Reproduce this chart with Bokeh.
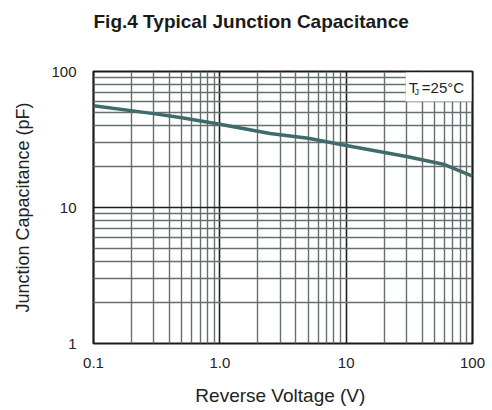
from bokeh.plotting import figure
from bokeh.models import FixedTicker, CustomJSTickFormatter, Label, Title
from bokeh.embed import file_html
from bokeh.resources import INLINE

# data
voltage = [0.1, 0.3, 0.5, 1.0, 2.5, 5.0, 10, 30, 60, 100]
capacitance = [56, 49, 45.7, 41, 35, 32.3, 28.6, 23.7, 20.7, 17.0]

x_major = [0.1, 1, 10, 100]
x_tick_labels = ["0.1", "1.0", "10", "100"]
y_major = [1, 10, 100]
y_tick_labels = ["1", "10", "100"]
x_minor = [m * 10.0 ** e for e in (-1, 0, 1) for m in range(2, 10)]
y_minor = [m * 10.0 ** e for e in (0, 1) for m in range(2, 10)]

title_text = "Fig.4  Typical Junction Capacitance"
x_label_text = "Reverse  Voltage (V)"
y_label_text = "Junction Capacitance (pF)"

FONT = "Liberation Sans"
TXT = "#222222"

p = figure(width=492, height=410, x_axis_type="log", y_axis_type="log",
           x_range=(0.1, 100), y_range=(1, 100),
           output_backend="svg", toolbar_location=None,
           min_border_left=93, min_border_right=20,
           min_border_top=71, min_border_bottom=67)

p.title.text = title_text
p.title.align = "left"
p.title.vertical_align = "top"
p.title.text_font = FONT
p.title.text_font_size = "19px"
p.title.text_font_style = "bold"
p.title.text_color = "#1a1a1a"
p.title.standoff = 20
# blank spacer between the title and the frame
p.add_layout(Title(text="\u00a0", text_font_size="10px", standoff=15), "above")

fmt_code = "const i = vals.indexOf(tick); return i >= 0 ? labs[i] : '';"
p.xaxis.ticker = FixedTicker(ticks=x_major, minor_ticks=x_minor)
p.yaxis.ticker = FixedTicker(ticks=y_major, minor_ticks=y_minor)
p.xaxis.formatter = CustomJSTickFormatter(args=dict(vals=x_major, labs=x_tick_labels), code=fmt_code)
p.yaxis.formatter = CustomJSTickFormatter(args=dict(vals=y_major, labs=y_tick_labels), code=fmt_code)

for ax in (p.xaxis, p.yaxis):
    ax.axis_line_color = None
    ax.major_tick_line_color = None
    ax.minor_tick_line_color = None
    ax.major_label_text_font = FONT
    ax.major_label_text_font_size = "15px"
    ax.major_label_text_color = TXT
    ax.axis_label_text_font = FONT
    ax.axis_label_text_font_style = "normal"
    ax.axis_label_text_color = TXT
p.xaxis.major_label_standoff = 8
p.yaxis.major_label_standoff = 11

p.xaxis.axis_label = x_label_text
p.xaxis.axis_label_text_font_size = "19px"
p.xaxis.axis_label_standoff = 14
p.yaxis.axis_label = y_label_text
p.yaxis.axis_label_text_font_size = "18px"
p.yaxis.axis_label_standoff = 15

for g in (p.xgrid, p.ygrid):
    g.grid_line_color = "#1e1e1e"
    g.grid_line_width = 1.6
    g.grid_line_alpha = 1.0
    g.minor_grid_line_color = "#63706e"
    g.minor_grid_line_width = 1.4

p.outline_line_color = "#1a1a1a"
p.outline_line_width = 2.2
p.background_fill_color = "white"

p.line(voltage, capacitance, line_color="#416b6b", line_width=3.5)

tj_box = Label(x=x_major[-1], y=y_major[-1], text="T  =25°C", anchor="top_right",
               x_offset=-1, y_offset=-1,
               text_font=FONT, text_font_size="15px", text_color=TXT,
               background_fill_color="white", padding=(3, 6))
tj_sub = Label(x=x_major[-1], y=y_major[-1], text="J", anchor="top_left",
               x_offset=-58, y_offset=-15,
               text_font=FONT, text_font_size="9px", text_color=TXT)
p.add_layout(tj_box)
p.add_layout(tj_sub)

open("out.html", "w").write(file_html(p, INLINE))
